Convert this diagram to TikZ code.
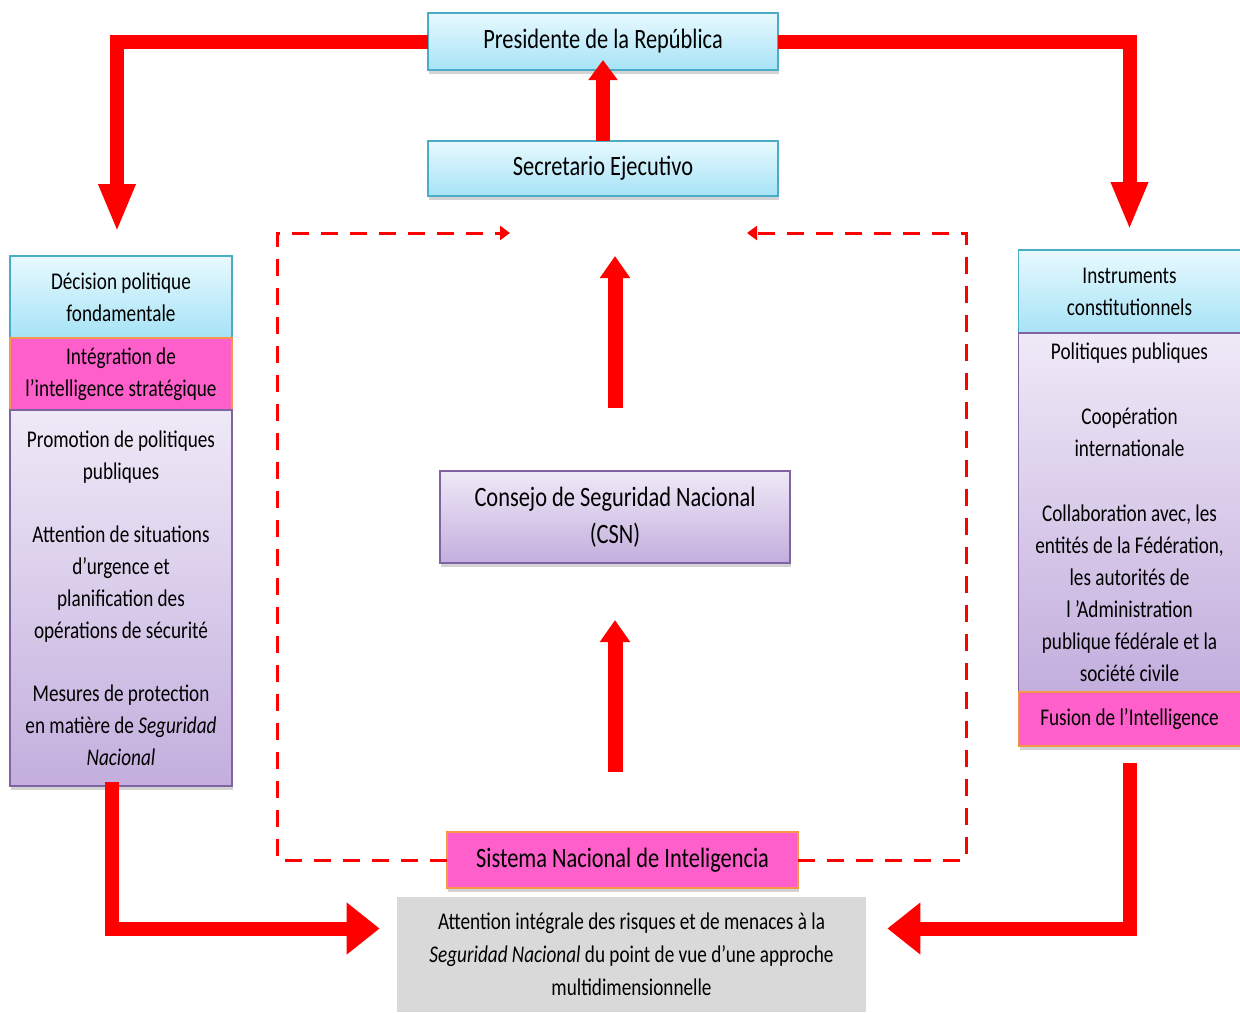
\documentclass[tikz,border=0pt]{standalone}
\usepackage{fontspec}
\setmainfont{Carlito}[FakeStretch=0.8]
\usetikzlibrary{positioning,arrows.meta,shadows}

\definecolor{cyanedge}{HTML}{4BACC6}
\definecolor{cyantop}{HTML}{E8F9FE}
\definecolor{cyanbot}{HTML}{A6E3F6}
\definecolor{lilacedge}{HTML}{8064A2}
\definecolor{lilactop}{HTML}{EFE9F7}
\definecolor{lilacbot}{HTML}{C3AEDD}
\definecolor{pinkfill}{HTML}{FF5FCB}
\definecolor{pinkedge}{HTML}{F79646}
\definecolor{greyfill}{HTML}{D9D9D9}

\tikzset{
	box/.style={draw, line width=0.8pt, align=center, inner sep=2pt, outer sep=0pt, text=black,
		drop shadow={shadow xshift=0.5pt, shadow yshift=-2pt, opacity=0.35}},
	bluebox/.style={box, draw=cyanedge, top color=cyantop, bottom color=cyanbot},
	lilacbox/.style={box, draw=lilacedge, top color=lilactop, bottom color=lilacbot},
	pinkbox/.style={box, draw=pinkedge, fill=pinkfill},
	side/.style={minimum width=111pt, font=\fontsize{12}{16}\selectfont},
	title/.style={minimum width=175pt, font=\fontsize{14}{18.5}\selectfont},
	bigarrow/.style={draw=red, line width=7pt, -{Triangle[length=24pt,width=17pt]}},
	midarrow/.style={draw=red, line width=7.5pt, -{Triangle[length=11pt,width=14.5pt]}},
	sidearrow/.style={draw=red, line width=7pt, -{Triangle[length=16.5pt,width=25pt]}},
	dasharrow/.style={draw=red, line width=1.5pt, dash pattern=on 8.5pt off 6pt,
		-{Triangle[length=5pt,width=7pt]}}
}

\begin{document}
\begin{tikzpicture}[x=0.5pt, y=-0.5pt]
	\useasboundingbox (0,0) rectangle (1240,1012);

	% Nodes
	\node[bluebox, title, minimum height=28.5pt] (pres) at (603,41.5) {Presidente de la República};
	\node[bluebox, title, minimum height=27.5pt] (secr) at (603,168.5) {Secretario Ejecutivo};
	\node[lilacbox, title, minimum height=46pt] (csn) at (615,517) {Consejo de Seguridad Nacional\\(CSN)};
	\node[pinkbox, title, minimum width=175.5pt, minimum height=28pt] (sni) at (622.5,860) {Sistema Nacional de Inteligencia};
	\node[fill=greyfill, align=center, inner sep=2pt, minimum width=234.5pt, minimum height=57.5pt,
		font=\fontsize{12}{16.5}\selectfont] (attention) at (631.5,954.5)
		{Attention intégrale des risques et de menaces à la\\
		\textit{Seguridad Nacional} du point de vue d’une approche\\
		multidimensionnelle};

	% left column
	\node[bluebox, side, minimum height=41pt] (decision) at (121,297) {Décision politique\\fondamentale};
	\node[pinkbox, side, minimum height=36pt, below=0pt of decision] (integration)
		{Intégration de\\l’intelligence stratégique};
	\node[lilacbox, side, minimum height=188pt, below=0pt of integration] (mesures)
		{Promotion de politiques\\publiques\\[15.5pt]
		Attention de situations\\d’urgence et\\planification des\\opérations de sécurité\\[15.5pt]
		Mesures de protection\\en matière de \textit{Seguridad}\\\textit{Nacional}};

	% right column
	\node[bluebox, side, minimum height=41.5pt] (instruments) at (1129.5,291.5) {Instruments\\constitutionnels};
	\node[lilacbox, side, minimum height=179.5pt, below=0pt of instruments] (politiques)
		{Politiques publiques\\[16.5pt]
		Coopération\\internationale\\[16.5pt]
		Collaboration avec, les\\entités de la Fédération,\\les autorités de\\l ’Administration\\publique fédérale et la\\société civile};
	\node[pinkbox, side, minimum height=27pt, below=0pt of politiques] (fusion) {Fusion de l’Intelligence};

	% dashed loop
	\coordinate (loopnw) at (277,233);
	\coordinate (loopne) at (966,233);
	\coordinate (loopnwend) at (510,233);
	\coordinate (loopneend) at (747,233);

	% Arrows
	\draw[bigarrow, shorten >=12pt] (pres.west) -| ([xshift=-2pt]decision.north);
	\draw[bigarrow, shorten >=10pt] (pres.east) -| (instruments.north);
	\draw[midarrow, line width=7pt, -{Triangle[length=10pt,width=14pt]}, shorten >=-5pt] (secr.north) -- (pres.south);
	\draw[midarrow, shorten <=31.5pt, shorten >=30pt] (csn.north) -- (csn.north |- secr.south);
	\draw[midarrow, shorten <=30pt, shorten >=28.5pt] (csn.south |- sni.north) -- (csn.south);
	\draw[sidearrow, shorten <=-2pt, shorten >=8.5pt] ([xshift=-4.5pt]mesures.south) |- ([yshift=13pt]attention.west);
	\draw[sidearrow, shorten <=8.5pt, shorten >=10.5pt] (fusion.south) |- ([yshift=13pt]attention.east);
	\draw[dasharrow] (sni.west) -| (loopnw) -- (loopnwend);
	\draw[dasharrow] (sni.east) -| (loopne) -- (loopneend);
\end{tikzpicture}
\end{document}
